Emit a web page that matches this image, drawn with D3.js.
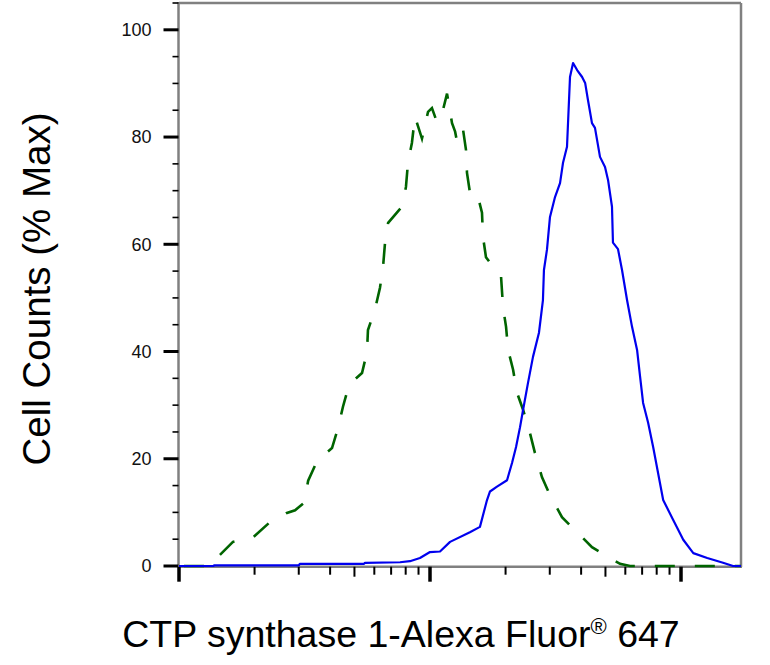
<!DOCTYPE html>
<html>
<head>
<meta charset="utf-8">
<script src="https://cdn.jsdelivr.net/npm/d3@7"></script>
<style>
  html, body { margin: 0; padding: 0; background: #fff; }
  svg { display: block; font-family: "Liberation Sans", Arial, sans-serif; }
</style>
</head>
<body>
<svg id="chart" width="770" height="665"></svg>
<script>
// ---- data (fluorescence intensity, % of max) ----
const blueX = [100,137,138,300,303,546,551,760,832,912,1000,1096,1202,1442,1581,1687,1734,1849,2027,2122,2202,2284,2348,2456,2572,2717,2818,2844,2924,3006,3148,3296,3388,3514,3612,3715,3855,4036,4150,4259,4419,4542,4756,4980,5120,5309,5357,5610,5821,6095,6382,6683,6870,7063,7396,7745,8491,9310,10208,11193,12719,14704,16122,17338];
const blueY = [0,0,0.1,0.1,0.4,0.4,0.6,0.7,0.9,1.5,2.6,2.7,4.5,6.3,7.3,12.3,13.9,14.8,16.0,19.2,22.2,25.9,29.1,34.1,39.0,43.5,49.6,55.2,59.0,65.1,68.8,71.4,75.2,78.2,91.2,93.8,92.5,91.2,90.1,86.9,82.6,81.7,76.3,74.4,72.0,67.0,60.3,59.1,55.2,49.6,44.6,40.3,35.3,30.4,26.7,22.2,12.3,8.6,4.9,2.4,1.5,0.6,0,0];

const greenX = [100,127,137,143,164,183,197,228,269,290,315,327,355,407,430,450,476,536,561,566,604,632,650,662,681,773,802,817,847,871,929,982,1018,1066,1127,1169,1224,1259,1282,1353,1391,1404,1443,1539,1611,1626,1671,1782,1918,1954,2009,2047,2143,2222,2350,2501,2618,2792,3006,3356,3855,4419,5120,5715,6266,17338];
const greenY = [0,0,0.7,1.7,4.5,5.0,5.3,8.0,9.9,10.4,11.8,15.9,19.6,22.0,25.7,29.7,33.8,36.0,39.9,44.0,47.9,51.9,55.8,60.3,64.0,67.0,70.7,75.2,78.9,83.8,79.7,84.7,85.4,82.8,85.1,88.1,82.6,81.0,79.1,81.5,77.6,73.3,69.6,69.6,65.9,61.4,57.6,55.8,54.1,48.3,44.6,40.3,36.6,32.3,29.1,24.8,21.1,16.6,13.2,9.1,6.3,3.5,1.7,0.4,0,0];

const yTickValues = [0, 20, 40, 60, 80, 100];
const yMinorValues = [5,10,15,25,30,35,45,50,55,65,70,75,85,90,95,105];
const xMajorValues = [100, 1000, 10000];
const xDomain = [100, 17338];
const yDomain = [0, 105];
const yTitle = "Cell Counts (% Max)";
const xTitleMain = "CTP synthase 1-Alexa Fluor";
const xTitleSup = "®";
const xTitleEnd = " 647";

// ---- drawing ----
const svg = d3.select("#chart");
const x = d3.scaleLog().domain(xDomain).range([179, 741]);
const y = d3.scaleLinear().domain(yDomain).range([566, 3]);

// minor x ticks (2..9 per decade)
const xMinor = [];
for (let dec = 100; dec < xDomain[1]; dec *= 10) {
  for (let k = 2; k <= 9; k++) if (dec * k <= xDomain[1]) xMinor.push(dec * k);
}

// frame
const frame = svg.append("g");
frame.append("line").attr("x1", x.range()[0]).attr("x2", x.range()[1])
  .attr("y1", y(yDomain[1])).attr("y2", y(yDomain[1]))
  .attr("stroke", "#808080").attr("stroke-width", 2.5);
frame.append("line").attr("x1", x.range()[1]).attr("x2", x.range()[1])
  .attr("y1", y(yDomain[1])).attr("y2", y(0) + 1)
  .attr("stroke", "#808080").attr("stroke-width", 2.5);

// y axis
const yAxis = svg.append("g").attr("transform", `translate(${x.range()[0] - 0.5},0)`);
yAxis.append("line").attr("y1", y(yDomain[1]) - 1).attr("y2", y(0) + 1)
  .attr("stroke", "#808080").attr("stroke-width", 2.5);
yAxis.selectAll(".ymin").data(yMinorValues).join("line")
  .attr("x1", -6).attr("x2", 0).attr("y1", d => y(d)).attr("y2", d => y(d))
  .attr("stroke", "#000").attr("stroke-width", 1.6);
yAxis.selectAll(".ymaj").data(yTickValues).join("line")
  .attr("x1", -15).attr("x2", 0).attr("y1", d => y(d)).attr("y2", d => y(d))
  .attr("stroke", "#000").attr("stroke-width", 3);
yAxis.selectAll(".ylab").data(yTickValues).join("text")
  .attr("x", -27).attr("y", d => y(d)).attr("dy", "0.35em")
  .attr("text-anchor", "end").attr("font-size", 18).attr("fill", "#111")
  .text(d => d);

// x axis
const xAxis = svg.append("g").attr("transform", `translate(0,${y(0) + 0.7})`);
xAxis.append("line").attr("x1", x.range()[0] - 1).attr("x2", x.range()[1] + 1)
  .attr("stroke", "#808080").attr("stroke-width", 2.5);
xAxis.selectAll(".xmin").data(xMinor).join("line")
  .attr("x1", d => x(d)).attr("x2", d => x(d))
  .attr("y1", 0).attr("y2", d => (Math.round(d / Math.pow(10, Math.floor(Math.log10(d)))) === 5 ? 10 : 8))
  .attr("stroke", "#000").attr("stroke-width", 2);
xAxis.selectAll(".xmaj").data(xMajorValues).join("line")
  .attr("x1", d => x(d)).attr("x2", d => x(d))
  .attr("y1", 0).attr("y2", 15)
  .attr("stroke", "#000").attr("stroke-width", 3.5);

// curves
const line = d3.line().x(d => x(d[0])).y(d => y(d[1])).curve(d3.curveLinear);
svg.append("path")
  .datum(greenX.map((v, i) => [v, greenY[i]]))
  .attr("d", line).attr("fill", "none")
  .attr("stroke", "#006400").attr("stroke-width", 2.6)
  .attr("stroke-dasharray", "20,20").attr("stroke-dashoffset", 35);
svg.append("path")
  .datum(blueX.map((v, i) => [v, blueY[i]]))
  .attr("d", line).attr("fill", "none")
  .attr("stroke", "#0000ee").attr("stroke-width", 2.2)
  .attr("stroke-linejoin", "round");

// titles
svg.append("text")
  .attr("transform", "translate(50,289) rotate(-90)")
  .attr("text-anchor", "middle").attr("font-size", 38.5).attr("fill", "#000")
  .text(yTitle);
const xt = svg.append("text")
  .attr("x", 401).attr("y", 647)
  .attr("text-anchor", "middle").attr("font-size", 37.5).attr("fill", "#000");
xt.append("tspan").text(xTitleMain);
xt.append("tspan").attr("font-size", 22).attr("dy", -13).text(xTitleSup);
xt.append("tspan").attr("dy", 13).text(xTitleEnd);
</script>
</body>
</html>
